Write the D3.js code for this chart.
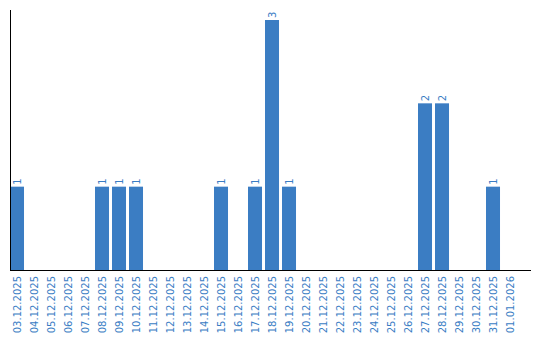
<!DOCTYPE html>
<html>
<head>
<meta charset="utf-8">
<script src="https://cdn.jsdelivr.net/npm/d3@7"></script>
<style>
  body { margin: 0; background: #fff; }
  svg { display: block; }
  text { font-family: "DejaVu Sans", Verdana, sans-serif; font-size: 10px; fill: #3a7dc4; }
</style>
</head>
<body>
<svg width="540" height="340"></svg>
<script>
const dates = [
  "03.12.2025", "04.12.2025", "05.12.2025", "06.12.2025", "07.12.2025",
  "08.12.2025", "09.12.2025", "10.12.2025", "11.12.2025", "12.12.2025",
  "13.12.2025", "14.12.2025", "15.12.2025", "16.12.2025", "17.12.2025",
  "18.12.2025", "19.12.2025", "20.12.2025", "21.12.2025", "22.12.2025",
  "23.12.2025", "24.12.2025", "25.12.2025", "26.12.2025", "27.12.2025",
  "28.12.2025", "29.12.2025", "30.12.2025", "31.12.2025", "01.01.2026"
];
const counts = [
  1, 0, 0, 0, 0,
  1, 1, 1, 0, 0,
  0, 0, 1, 0, 1,
  3, 1, 0, 0, 0,
  0, 0, 0, 0, 2,
  2, 0, 0, 1, 0
];

const BAR_COLOR = "#3b7dc3";
const baseY = 270;

const svg = d3.select("svg");

const x = d3
  .scaleBand()
  .domain(dates)
  .range([10, 530])
  .paddingInner(0.176)
  .paddingOuter(0.382)
  .align(0);

const y = d3.scaleLinear().domain([0, 3]).range([baseY, 20]);

const data = dates.map((d, i) => ({ date: d, value: counts[i] }));

// bars
svg
  .append("g")
  .selectAll("rect")
  .data(data.filter((d) => d.value > 0))
  .join("rect")
  .attr("x", (d) => x(d.date))
  .attr("y", (d) => y(d.value))
  .attr("width", x.bandwidth())
  .attr("height", (d) => baseY - y(d.value))
  .attr("fill", BAR_COLOR);

// value labels, rotated
svg
  .append("g")
  .selectAll("text")
  .data(data.filter((d) => d.value > 0))
  .join("text")
  .attr(
    "transform",
    (d) => `translate(${x(d.date) + x.bandwidth() / 2},${y(d.value) - 2}) rotate(-90)`
  )
  .attr("dy", "0.35em")
  .attr("text-anchor", "start")
  .text((d) => d.value);

// x axis labels
svg
  .append("g")
  .selectAll("text")
  .data(dates)
  .join("text")
  .attr(
    "transform",
    (d) => `translate(${x(d) + x.bandwidth() / 2},${baseY + 6}) rotate(-90)`
  )
  .attr("dy", "0.35em")
  .attr("text-anchor", "end")
  .text((d) => d);

// axis lines
svg
  .append("line")
  .attr("x1", 10.5)
  .attr("x2", 10.5)
  .attr("y1", 10)
  .attr("y2", baseY)
  .attr("stroke", "#000");

svg
  .append("line")
  .attr("x1", 10)
  .attr("x2", 531)
  .attr("y1", baseY + 0.5)
  .attr("y2", baseY + 0.5)
  .attr("stroke", "#000");
</script>
</body>
</html>
